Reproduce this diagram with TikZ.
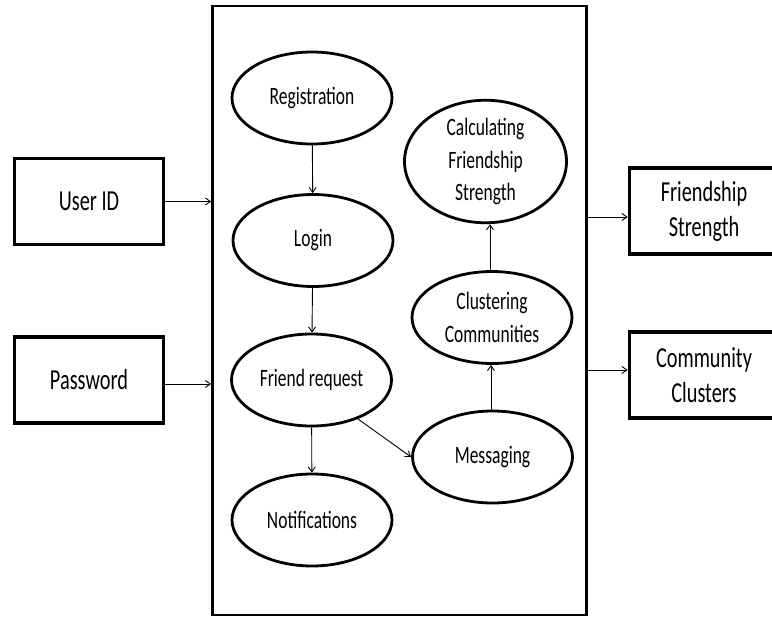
\documentclass[tikz,border=0pt]{standalone}
\usepackage{fontspec}
\setmainfont{Carlito}[FakeStretch=0.7]
\usepackage{tikz}
\usetikzlibrary{arrows.meta,positioning,shapes.geometric}

\begin{document}
\begin{tikzpicture}[
  x=1pt, y=-1pt,
  stage/.style={draw, ellipse, line width=2.8pt, inner sep=0pt,
                minimum width=160pt, minimum height=92pt, align=center,
                font=\fontsize{25}{32.5}\selectfont},
  iobox/.style={draw, line width=3.6pt, minimum width=149pt,
                minimum height=86pt, align=center,
                font=\fontsize{29}{35}\selectfont},
  sysbox/.style={draw, line width=2.6pt, minimum width=374pt,
                 minimum height=609pt},
  flow/.style={-{Straight Barb[length=5pt,width=7pt]}, line width=0.9pt}
]
\useasboundingbox (0,0) rectangle (772,618);

% System
\node[sysbox] (sys) at (399.5,310.5) {};

% Inputs
\node[iobox] (in1) at (89,201.5) {User ID};
\node[iobox] (in2) at (89,380) {Password};

% Outputs
\node[iobox] (out1) at (704,211) {Friendship\\Strength};
\node[iobox] (out2) at (704,375) {Community\\Clusters};

% Left column
\node[stage] (s1) at (312,98) {Registration};
\node[stage] (s2) at (313,240.5) {Login};
\node[stage] (s3) at (311.5,380) {Friend request};
\node[stage] (s4) at (312,520) {Notifications};

% Right column
\node[stage, minimum width=162pt, minimum height=110pt] (s7) at (485.5,161.5)
  {Calculating\\Friendship\\Strength};
\node[stage] (s6) at (492,317.5) {Clustering\\Communities};
\node[stage] (s5) at (492.5,457) {Messaging};

% Connectors
\draw[flow] (in1.east) -- (in1.east -| sys.west);
\draw[flow] ([yshift=-4pt]in2.east) -- ([yshift=-4pt]in2.east -| sys.west);
\draw[flow] ([yshift=-6pt]out1.west -| sys.east) -- ([yshift=-6pt]out1.west);
\draw[flow] ([yshift=5pt]out2.west -| sys.east) -- ([yshift=5pt]out2.west);

\draw[flow] (s1) -- (s2);
\draw[flow] (s2) -- (s3);
\draw[flow] (s3) -- (s4);
\draw[flow] (s3.-40) -- (s5.west);
\draw[flow] (s5.north -| 491,0) -- (s6.south -| 491,0);
\draw[flow] (s6.north -| 490,0) -- (s7.south -| 490,0);

\end{tikzpicture}
\end{document}
